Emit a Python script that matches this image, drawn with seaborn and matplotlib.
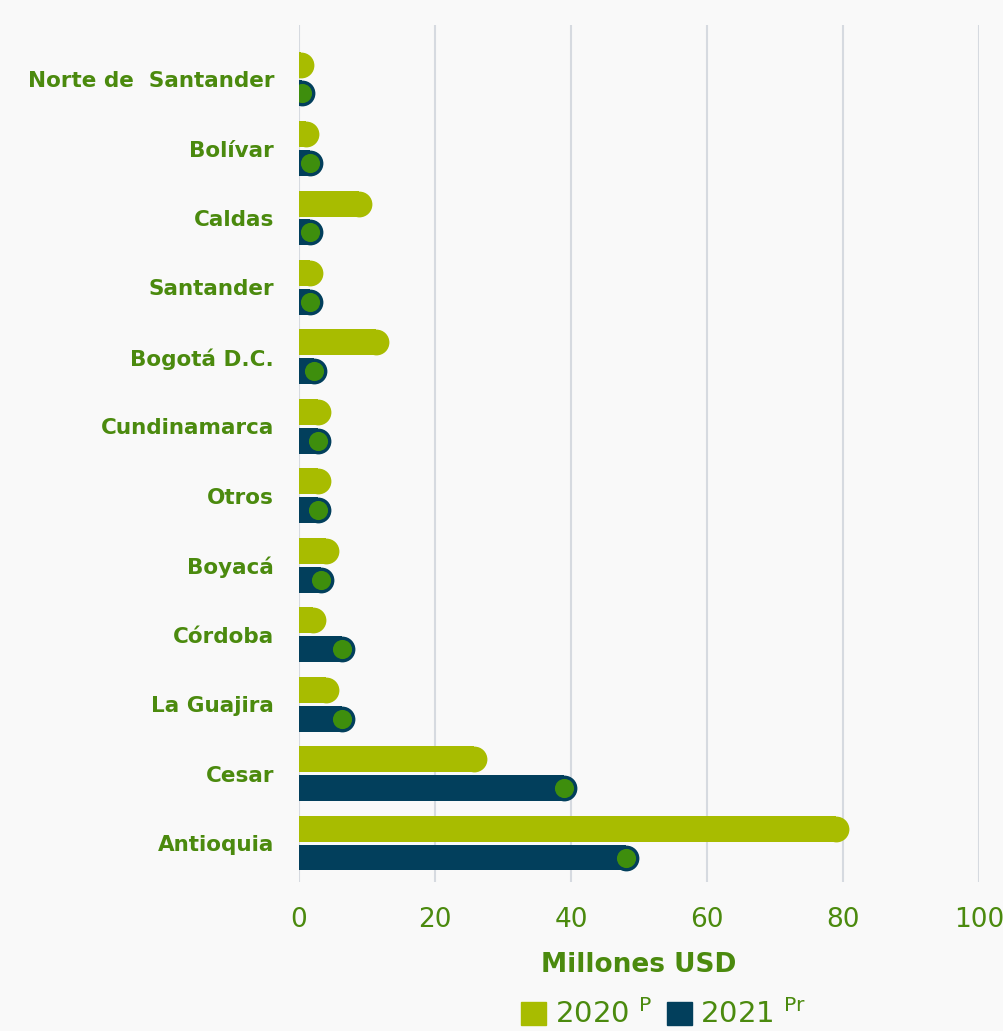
import pandas as pd
import matplotlib.pyplot as plt
from matplotlib.patches import Patch
import seaborn as sns

# ============================================================================
# DATA
# ============================================================================

regions = ['Norte de  Santander', 'Bolívar', 'Caldas', 'Santander', 'Bogotá D.C.',
           'Cundinamarca', 'Otros', 'Boyacá', 'Córdoba', 'La Guajira', 'Cesar', 'Antioquia']
val_2020 = [0.3, 1.0, 8.8, 1.6, 11.3, 2.8, 2.8, 4.0, 2.1, 4.0, 25.7, 79.0]
val_2021 = [0.4, 1.6, 1.6, 1.6, 2.2, 2.8, 2.8, 3.2, 6.3, 6.3, 39.0, 48.1]
years = ['2020', '2021']
legend_labels = ['2020 $^{\\mathrm{P}}$', '2021 $^{\\mathrm{Pr}}$']
x_ticks = [0, 20, 40, 60, 80, 100]

df = pd.DataFrame({
    'region': regions * 2,
    'year': [years[0]] * len(regions) + [years[1]] * len(regions),
    'value': val_2020 + val_2021,
})

# ============================================================================
# STYLE
# ============================================================================

bg = '#f9f9f9'
c2020 = '#a8bc00'
c2021 = '#023f5c'
dot = '#3e8e0d'
txt = '#4b8a0e'
grid = '#d6dae0'

sns.set_style('white')
plt.rcParams['font.family'] = ['DejaVu Sans']

# ============================================================================
# PLOT
# ============================================================================

fig = plt.figure(figsize=(10.04, 10.31), dpi=100, facecolor=bg)
ax = fig.add_axes([299 / 1004, 1 - 882 / 1031, 680 / 1004, 857 / 1031], facecolor=bg)

sns.barplot(data=df, y='region', x='value', hue='year', orient='h',
            palette=[c2020, c2021], saturation=1, width=0.83, gap=0.1,
            linewidth=0, legend=False, ax=ax, zorder=2)

# rounded caps + dot on 2021 bars
for cont, col in zip(ax.containers, [c2020, c2021]):
    xs = [p.get_width() for p in cont.patches]
    ys = [p.get_y() + p.get_height() / 2 for p in cont.patches]
    ax.scatter(xs, ys, s=345, color=col, linewidths=0, zorder=3, clip_on=True)
    if col == c2021:
        ax.scatter(xs, ys, s=190, color=dot, linewidths=0, zorder=4, clip_on=True)

ax.set_xlim(0, 100)
ax.set_ylim(11.56, -0.778)
ax.set_xticks(x_ticks)
ax.xaxis.grid(True, color=grid, linewidth=1.5, zorder=0)
ax.set_axisbelow(True)
sns.despine(ax=ax, left=True, right=True, top=True, bottom=True)

ax.tick_params(axis='x', length=8, width=1.5, color=grid, pad=10,
               labelsize=19, labelcolor=txt)
ax.tick_params(axis='y', length=0, pad=18)
for lab in ax.get_yticklabels():
    lab.set_fontsize(15.5)
    lab.set_fontweight('bold')
    lab.set_color(txt)

ax.set_ylabel('')
ax.set_xlabel('Millones USD', fontsize=19, fontweight='bold', color=txt, labelpad=14)

handles = [Patch(color=c2020), Patch(color=c2021)]
fig.legend(handles, legend_labels, loc='upper center', ncol=2,
           bbox_to_anchor=(664 / 1004, 1 - 985 / 1031), frameon=False,
           fontsize=21, labelcolor=txt, handlelength=0.85, handleheight=0.85,
           handletextpad=0.3, columnspacing=0.5, borderpad=0)

plt.savefig('out.png', dpi=100, facecolor=bg)
